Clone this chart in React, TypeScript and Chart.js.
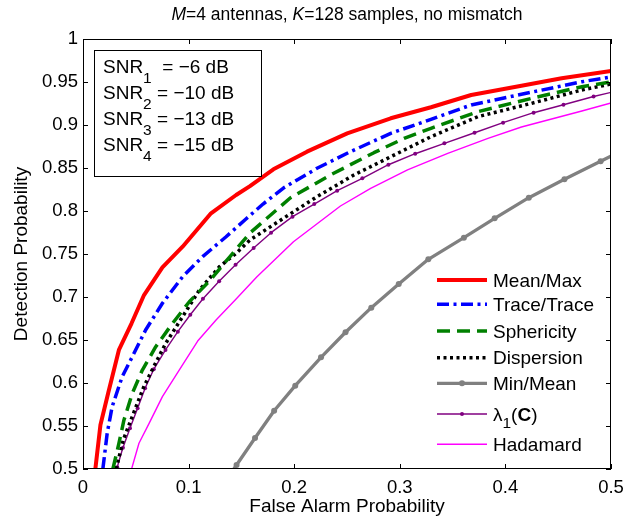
import { useEffect, useRef } from 'react';
import { Chart, registerables } from 'chart.js';

Chart.register(...registerables);

const FONT = "'Liberation Sans', Arial, Helvetica, sans-serif";

// ---------- data ----------
const xTickLabels = ['0', '0.1', '0.2', '0.3', '0.4', '0.5'];
const yTickLabels = ['0.5', '0.55', '0.6', '0.65', '0.7', '0.75', '0.8', '0.85', '0.9', '0.95', '1'];
const seriesNames = ['Mean/Max', 'Trace/Trace', 'Sphericity', 'Dispersion', 'Min/Mean', 'λ1(C)', 'Hadamard'];
const snrIndex = ['1', '2', '3', '4'];
const snrValues = ['−6 dB', '−10 dB', '−13 dB', '−15 dB'];

const meanMaxPfa = [0.0117, 0.0165, 0.0238, 0.034, 0.046, 0.0578, 0.0752, 0.0943, 0.1212, 0.145, 0.1581, 0.1803, 0.2121, 0.2502, 0.2914, 0.3295, 0.3676, 0.4152, 0.4533, 0.5];
const meanMaxPd = [0.5, 0.5512, 0.588, 0.6384, 0.6694, 0.7023, 0.7345, 0.7585, 0.7973, 0.8186, 0.829, 0.8485, 0.869, 0.8903, 0.9078, 0.9206, 0.9349, 0.9457, 0.9543, 0.9628];

const traceTracePfa = [0.0188, 0.0229, 0.0276, 0.0371, 0.0467, 0.0593, 0.0752, 0.0943, 0.1133, 0.1355, 0.1543, 0.1705, 0.1898, 0.2216, 0.2533, 0.2914, 0.3295, 0.3676, 0.4152, 0.4724, 0.5];
const traceTracePd = [0.5, 0.5415, 0.5724, 0.6073, 0.6306, 0.6616, 0.6927, 0.7236, 0.7469, 0.7701, 0.7907, 0.8081, 0.8267, 0.8497, 0.869, 0.8903, 0.9066, 0.9233, 0.9357, 0.9503, 0.9558];

const sphericityPfa = [0.0283, 0.034, 0.0388, 0.0467, 0.0562, 0.0689, 0.0848, 0.1007, 0.1197, 0.1388, 0.1581, 0.1962, 0.2343, 0.2755, 0.3041, 0.3295, 0.374, 0.4248, 0.4724, 0.5];
const sphericityPd = [0.5, 0.5299, 0.557, 0.588, 0.6151, 0.6422, 0.6694, 0.6945, 0.7186, 0.7465, 0.7744, 0.8151, 0.8419, 0.8678, 0.8845, 0.8962, 0.9155, 0.931, 0.9445, 0.95];

const dispersionPfa = [0.0314, 0.0381, 0.049, 0.0576, 0.0686, 0.0784, 0.0943, 0.1102, 0.1292, 0.145, 0.1581, 0.1898, 0.2216, 0.2565, 0.2914, 0.3295, 0.374, 0.4248, 0.4724, 0.5];
const dispersionPd = [0.5, 0.5337, 0.5686, 0.5957, 0.6229, 0.6462, 0.6771, 0.7081, 0.7352, 0.7508, 0.7663, 0.7915, 0.8166, 0.8419, 0.8631, 0.8864, 0.9097, 0.9252, 0.9407, 0.9477];

const minMeanPfa = [0.1281, 0.1454, 0.1629, 0.181, 0.201, 0.2254, 0.2486, 0.273, 0.299, 0.327, 0.3607, 0.3898, 0.4222, 0.4559, 0.4902, 0.5238];
const minMeanPd = [0.4733, 0.5047, 0.536, 0.5678, 0.5969, 0.6299, 0.659, 0.6876, 0.7151, 0.7438, 0.769, 0.7915, 0.8155, 0.8369, 0.8578, 0.8785];

const lambdaPfa = [0.0276, 0.0324, 0.0378, 0.0445, 0.0517, 0.0588, 0.067, 0.0781, 0.0898, 0.1016, 0.1136, 0.1289, 0.1445, 0.1616, 0.1781, 0.1984, 0.219, 0.2407, 0.2645, 0.2892, 0.3146, 0.3422, 0.3708, 0.3978, 0.4267, 0.455, 0.4835, 0.5114];
const lambdaPd = [0.4779, 0.502, 0.5248, 0.5473, 0.5706, 0.5938, 0.6159, 0.6384, 0.6597, 0.6794, 0.698, 0.7183, 0.7376, 0.757, 0.7748, 0.7934, 0.8081, 0.8236, 0.838, 0.8538, 0.8666, 0.8787, 0.891, 0.9027, 0.9143, 0.9236, 0.9331, 0.9413];

const hadamardPfa = [0.046, 0.053, 0.0626, 0.0752, 0.0911, 0.1086, 0.126, 0.145, 0.1645, 0.1993, 0.2438, 0.2724, 0.3073, 0.3454, 0.3835, 0.4152, 0.4724, 0.5];
const hadamardPd = [0.5, 0.5299, 0.5531, 0.5841, 0.6151, 0.6488, 0.6733, 0.6977, 0.7233, 0.7643, 0.8058, 0.8264, 0.8477, 0.8671, 0.8845, 0.8977, 0.9163, 0.9256];

// ---------- helpers ----------
type Part = { t: string; sub?: boolean; italic?: boolean; bold?: boolean };

function partFont(p: Part, size: number, subSize: number) {
  return `${p.italic ? 'italic ' : ''}${p.bold ? 'bold ' : ''}${p.sub ? subSize : size}px ${FONT}`;
}
function measureParts(ctx: CanvasRenderingContext2D, parts: Part[], size: number, subSize: number) {
  let w = 0;
  for (const p of parts) {
    ctx.font = partFont(p, size, subSize);
    w += ctx.measureText(p.t).width;
  }
  return w;
}
function drawParts(ctx: CanvasRenderingContext2D, parts: Part[], x: number, y: number, size: number, subSize: number, subDrop: number) {
  let cx = x;
  for (const p of parts) {
    ctx.font = partFont(p, size, subSize);
    ctx.fillText(p.t, cx, p.sub ? y + subDrop : y);
    cx += ctx.measureText(p.t).width;
  }
}

function pts(xs: number[], ys: number[]) {
  return xs.map((x, i) => ({ x, y: ys[i] }));
}

const decorPlugin = {
  id: 'decor',
  afterDraw(chart: any) {
    const ctx: CanvasRenderingContext2D = chart.ctx;
    const { left, right, top, bottom } = chart.chartArea;
    const xs = chart.scales.x;
    const ys = chart.scales.y;
    ctx.save();

    // axes box
    ctx.strokeStyle = '#000';
    ctx.lineWidth = 1;
    ctx.setLineDash([]);
    ctx.strokeRect(Math.round(left) + 0.5, Math.round(top) + 0.5, Math.round(right - left) - 1, Math.round(bottom - top) - 1);

    // inner ticks on all four sides
    const TL = 5;
    ctx.beginPath();
    for (const t of ys.ticks) {
      const py = Math.round(ys.getPixelForValue(t.value)) + 0.5;
      ctx.moveTo(left, py); ctx.lineTo(left + TL, py);
      ctx.moveTo(right, py); ctx.lineTo(right - TL, py);
    }
    for (const t of xs.ticks) {
      const px = Math.round(xs.getPixelForValue(t.value)) + 0.5;
      ctx.moveTo(px, bottom); ctx.lineTo(px, bottom - TL);
      ctx.moveTo(px, top); ctx.lineTo(px, top + TL);
    }
    ctx.stroke();

    // title
    ctx.fillStyle = '#000';
    ctx.textBaseline = 'alphabetic';
    ctx.textAlign = 'left';
    const titleParts: Part[] = [
      { t: 'M', italic: true }, { t: '=4 antennas, ' },
      { t: 'K', italic: true }, { t: '=128 samples, no mismatch' },
    ];
    const tw = measureParts(ctx, titleParts, 17.5, 17.5);
    drawParts(ctx, titleParts, (left + right) / 2 - tw / 2, 19.5, 17.5, 17.5, 0);

    // SNR box
    ctx.fillStyle = '#fff';
    ctx.fillRect(94.5, 50.5, 167, 126);
    ctx.strokeStyle = '#000';
    ctx.strokeRect(94.5, 50.5, 167, 126);
    ctx.fillStyle = '#000';
    const snrBase = [73, 99, 125, 151];
    snrIndex.forEach((s, i) => {
      const parts: Part[] = [
        { t: 'SNR' }, { t: s, sub: true },
        { t: (i === 0 ? '  = ' : ' = ') + snrValues[i] },
      ];
      drawParts(ctx, parts, 103, snrBase[i], 19, 15.5, 10);
    });

    // legend
    const rowY = [280, 304.3, 331, 357.7, 383.3, 414, 444.3];
    const x0 = 437, x1 = 487, tx = 493;
    chart.data.datasets.forEach((ds: any, i: number) => {
      const y = rowY[i];
      ctx.save();
      ctx.strokeStyle = ds.borderColor;
      ctx.lineWidth = ds.borderWidth;
      ctx.setLineDash(ds.borderDash || []);
      ctx.lineCap = 'butt';
      ctx.beginPath();
      ctx.moveTo(x0, y); ctx.lineTo(x1, y);
      ctx.stroke();
      if (ds.pointRadius > 0) {
        ctx.fillStyle = ds.pointBackgroundColor;
        ctx.beginPath();
        ctx.arc((x0 + x1) / 2, y, ds.pointRadius, 0, Math.PI * 2);
        ctx.fill();
      }
      ctx.restore();
      ctx.fillStyle = '#000';
      let parts: Part[];
      if (ds.label === 'λ1(C)') {
        parts = [{ t: 'λ' }, { t: '1', sub: true }, { t: '(' }, { t: 'C', bold: true }, { t: ')' }];
      } else {
        parts = [{ t: ds.label }];
      }
      drawParts(ctx, parts, tx, y + 6.5, 19, 15.5, 7);
    });

    ctx.restore();
  },
};

export default function App() {
  const ref = useRef<HTMLCanvasElement | null>(null);

  useEffect(() => {
    document.body.style.margin = '0';
    const canvas = ref.current;
    if (!canvas) return;

    const base = { tension: 0, fill: false, clip: 0, borderCapStyle: 'butt', borderJoinStyle: 'round' };
    const datasets: any[] = [
      { ...base, label: seriesNames[0], data: pts(meanMaxPfa, meanMaxPd), borderColor: '#ff0000', borderWidth: 4, pointRadius: 0 },
      { ...base, label: seriesNames[1], data: pts(traceTracePfa, traceTracePd), borderColor: '#0000ff', borderWidth: 3.5, borderDash: [12, 4.5, 3, 4.5], pointRadius: 0 },
      { ...base, label: seriesNames[2], data: pts(sphericityPfa, sphericityPd), borderColor: '#008000', borderWidth: 3.5, borderDash: [13, 7], pointRadius: 0 },
      { ...base, label: seriesNames[3], data: pts(dispersionPfa, dispersionPd), borderColor: '#000000', borderWidth: 3.5, borderDash: [3, 3.5], pointRadius: 0 },
      { ...base, label: seriesNames[4], data: pts(minMeanPfa, minMeanPd), borderColor: '#808080', borderWidth: 3.3, pointRadius: 3, pointBackgroundColor: '#808080', pointBorderWidth: 0, pointBorderColor: '#808080' },
      { ...base, label: seriesNames[5], data: pts(lambdaPfa, lambdaPd), borderColor: '#800080', borderWidth: 1.4, pointRadius: 2, pointBackgroundColor: '#800080', pointBorderWidth: 0, pointBorderColor: '#800080' },
      { ...base, label: seriesNames[6], data: pts(hadamardPfa, hadamardPd), borderColor: '#ff00ff', borderWidth: 1.4, pointRadius: 0 },
    ];

    const chart = new Chart(canvas, {
      type: 'line',
      data: { datasets },
      plugins: [decorPlugin],
      options: {
        responsive: false,
        animation: false,
        events: [],
        layout: { padding: { left: 0, right: 27, top: 39, bottom: 0 } },
        plugins: {
          legend: { display: false },
          tooltip: { enabled: false },
          title: { display: false },
        },
        scales: {
          x: {
            type: 'linear',
            min: 0,
            max: 0.5,
            grid: { display: false, drawTicks: false },
            border: { display: false },
            ticks: {
              stepSize: 0.1,
              autoSkip: false,
              maxRotation: 0,
              padding: 8,
              color: '#000',
              font: { family: FONT, size: 18.5 },
              callback: (v: any) => xTickLabels[Math.round(Number(v) / 0.1)] ?? '',
            },
            title: {
              display: true,
              text: 'False Alarm Probability',
              color: '#000',
              font: { family: FONT, size: 19 },
              padding: { top: 0, bottom: 5.5 },
            },
            afterFit: (s: any) => { s.height = 55; },
          },
          y: {
            type: 'linear',
            min: 0.5,
            max: 1,
            grid: { display: false, drawTicks: false },
            border: { display: false },
            ticks: {
              stepSize: 0.05,
              autoSkip: false,
              padding: 5,
              color: '#000',
              font: { family: FONT, size: 18.5 },
              callback: (v: any) => yTickLabels[Math.round((Number(v) - 0.5) / 0.05)] ?? '',
            },
            title: {
              display: true,
              text: 'Detection Probability',
              color: '#000',
              font: { family: FONT, size: 19 },
              padding: { top: 10.5, bottom: 0 },
            },
            afterFit: (s: any) => { s.width = 83; },
          },
        },
      } as any,
    });

    return () => chart.destroy();
  }, []);

  return (
    <div style={{ width: 638, height: 524, background: '#fff' }}>
      <canvas ref={ref} width={638} height={524} style={{ display: 'block' }} />
    </div>
  );
}
